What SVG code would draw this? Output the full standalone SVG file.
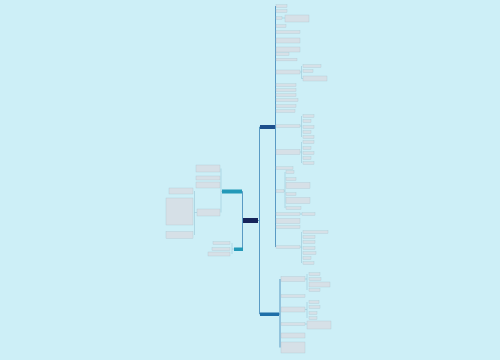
<svg xmlns="http://www.w3.org/2000/svg" width="500" height="360" viewBox="0 0 500 360">
<style>
.bg{fill:#cdeff7}
.n{fill:#d6e0e7;stroke:#a9bfcb;stroke-width:0.3}
.root{fill:#15235a}
.b1{fill:#1c4f8c}
.b2{fill:#1f6fa8}
.lt{fill:#2399b8}
.c{fill:none;stroke:#8fbfd0;stroke-width:0.5}
.m{fill:none;stroke:#3b84b6;stroke-width:0.8}
</style>
<rect class="bg" x="0" y="0" width="500" height="360"/>
<g id="connectors">
<path class="m" d="M258 220.5H259.5V127H260M259.5 220.5V314H260M243 220.5H242.5V191.5H242M242.5 220.5V249H243"/>
<path class="m" d="M275 127H275.5M275.5 6V247"/>
<path class="c" d="M282 18H285M300 72H301.5M301.5 66V78.5H303M300 126H301.5M301.5 116V137M300 152H301.5M301.5 142V163M284 191H285M285 172V208M300 214H302M300 247H301.5M301.5 232V263"/>
<path class="m" d="M279 314H280M280 279V347.5"/>
<path class="c" d="M305 279H307M307 274V290M305 309.5H307M307 302V318M305 324H307"/>
<path class="c" d="M222 191.5H221M221 168.5V212.5M197 212.5H194.5M194.5 191V235M234 249H232M232 243V254"/>
</g>
<g id="root"><rect class="root" x="243" y="218" width="15" height="5"/></g>
<g id="b1"><rect class="b1" x="260" y="125" width="15" height="4"/></g>
<g id="b2"><rect class="b2" x="260" y="312.5" width="19" height="3.5"/></g>
<g id="l1"><rect class="lt" x="222" y="189.5" width="20" height="4"/></g>
<g id="l2"><rect class="lt" x="234" y="247.5" width="9" height="3.5"/></g>
<g id="r1"><rect class="n" x="276" y="4.8" width="11" height="2.6"/></g>
<g id="r2"><rect class="n" x="276" y="9.8" width="11" height="2.6"/></g>
<g id="r3"><rect class="n" x="276" y="16.8" width="6" height="2.6"/></g>
<g id="r3a"><rect class="n" x="285" y="15" width="24" height="7"/></g>
<g id="r4"><rect class="n" x="276" y="24.8" width="10" height="2.6"/></g>
<g id="r5"><rect class="n" x="276" y="30.8" width="24" height="2.6"/></g>
<g id="r6"><rect class="n" x="276" y="38" width="24" height="5"/></g>
<g id="r7"><rect class="n" x="276" y="47" width="24" height="5"/></g>
<g id="r8"><rect class="n" x="276" y="52.8" width="13" height="2.6"/></g>
<g id="r9"><rect class="n" x="276" y="58.3" width="21" height="2.6"/></g>
<g id="r10"><rect class="n" x="276" y="70" width="24" height="4"/></g>
<g id="r10a"><rect class="n" x="303" y="64.8" width="18" height="2.6"/></g>
<g id="r10b"><rect class="n" x="303" y="69.8" width="10" height="2.6"/></g>
<g id="r10c"><rect class="n" x="303" y="76" width="24" height="5"/></g>
<g id="r11"><rect class="n" x="276" y="83.8" width="20" height="2.6"/></g>
<g id="r12"><rect class="n" x="276" y="88.8" width="20" height="2.6"/></g>
<g id="r13"><rect class="n" x="276" y="93.8" width="20" height="2.6"/></g>
<g id="r14"><rect class="n" x="276" y="98.8" width="22" height="2.6"/></g>
<g id="r15"><rect class="n" x="276" y="104.8" width="20" height="2.6"/></g>
<g id="r16"><rect class="n" x="276" y="109.8" width="19" height="2.6"/></g>
<g id="r17"><rect class="n" x="276" y="124.8" width="24" height="2.6"/></g>
<g id="r17a"><rect class="n" x="303" y="114.8" width="11" height="2.6"/></g>
<g id="r17b"><rect class="n" x="303" y="119.8" width="8" height="2.6"/></g>
<g id="r17c"><rect class="n" x="303" y="125.8" width="11" height="2.6"/></g>
<g id="r17d"><rect class="n" x="303" y="130.8" width="8" height="2.6"/></g>
<g id="r17e"><rect class="n" x="303" y="135.8" width="11" height="2.6"/></g>
<g id="r18"><rect class="n" x="276" y="149.5" width="24" height="5"/></g>
<g id="r18a"><rect class="n" x="303" y="140.8" width="11" height="2.6"/></g>
<g id="r18b"><rect class="n" x="303" y="146.8" width="8" height="2.6"/></g>
<g id="r18c"><rect class="n" x="303" y="151.8" width="11" height="2.6"/></g>
<g id="r18d"><rect class="n" x="303" y="156.8" width="8" height="2.6"/></g>
<g id="r18e"><rect class="n" x="303" y="161.8" width="11" height="2.6"/></g>
<g id="r19"><rect class="n" x="276" y="166.8" width="17" height="2.6"/></g>
<g id="r20"><rect class="n" x="276" y="189.8" width="8" height="2.6"/></g>
<g id="r20a"><rect class="n" x="286" y="170.8" width="8" height="2.6"/></g>
<g id="r20b"><rect class="n" x="286" y="177.8" width="10" height="2.6"/></g>
<g id="r20c"><rect class="n" x="286" y="182.5" width="24" height="6"/></g>
<g id="r20d"><rect class="n" x="286" y="192.8" width="10" height="2.6"/></g>
<g id="r20e"><rect class="n" x="286" y="197.5" width="24" height="6"/></g>
<g id="r20f"><rect class="n" x="286" y="206.8" width="15" height="2.6"/></g>
<g id="r21"><rect class="n" x="276" y="212.8" width="24" height="2.6"/></g>
<g id="r21a"><rect class="n" x="302" y="212.8" width="13" height="2.6"/></g>
<g id="r22"><rect class="n" x="276" y="218.5" width="24" height="5"/></g>
<g id="r23"><rect class="n" x="276" y="225.8" width="24" height="2.6"/></g>
<g id="r24"><rect class="n" x="276" y="245.8" width="24" height="2.6"/></g>
<g id="r24a"><rect class="n" x="303" y="230.8" width="25" height="2.6"/></g>
<g id="r24b"><rect class="n" x="303" y="235.8" width="12" height="2.6"/></g>
<g id="r24c"><rect class="n" x="303" y="240.8" width="12" height="2.6"/></g>
<g id="r24d"><rect class="n" x="303" y="246.8" width="12" height="2.6"/></g>
<g id="r24e"><rect class="n" x="303" y="251.8" width="13" height="2.6"/></g>
<g id="r24f"><rect class="n" x="303" y="256.8" width="8" height="2.6"/></g>
<g id="r24g"><rect class="n" x="303" y="261.8" width="11" height="2.6"/></g>
<g id="s1"><rect class="n" x="281" y="276.5" width="24" height="5"/></g>
<g id="s1a"><rect class="n" x="309" y="272.8" width="11" height="2.6"/></g>
<g id="s1b"><rect class="n" x="309" y="277.8" width="12" height="2.6"/></g>
<g id="s1c"><rect class="n" x="309" y="282" width="21" height="5"/></g>
<g id="s1d"><rect class="n" x="309" y="288.8" width="11" height="2.6"/></g>
<g id="s2"><rect class="n" x="281" y="294.8" width="24" height="2.6"/></g>
<g id="s3"><rect class="n" x="281" y="307" width="24" height="5"/></g>
<g id="s3a"><rect class="n" x="309" y="300.8" width="10" height="2.6"/></g>
<g id="s3b"><rect class="n" x="309" y="305.8" width="11" height="2.6"/></g>
<g id="s3c"><rect class="n" x="309" y="311.8" width="8" height="2.6"/></g>
<g id="s3d"><rect class="n" x="309" y="316.8" width="8" height="2.6"/></g>
<g id="s4"><rect class="n" x="281" y="322.8" width="24" height="2.6"/></g>
<g id="s4a"><rect class="n" x="307" y="321" width="24" height="8"/></g>
<g id="s5"><rect class="n" x="281" y="333" width="24" height="5"/></g>
<g id="s6"><rect class="n" x="281" y="342" width="24" height="11"/></g>
<g id="la"><rect class="n" x="196" y="165" width="24" height="7"/></g>
<g id="lb"><rect class="n" x="196" y="176" width="24" height="4"/></g>
<g id="lc"><rect class="n" x="196" y="182" width="24" height="6"/></g>
<g id="ld"><rect class="n" x="197" y="209" width="23" height="7"/></g>
<g id="ld1"><rect class="n" x="169" y="188" width="24" height="6"/></g>
<g id="ld2"><rect class="n" x="166" y="198" width="27" height="27"/></g>
<g id="ld3"><rect class="n" x="166" y="231.5" width="27" height="7"/></g>
<g id="m1"><rect class="n" x="213" y="241.8" width="17" height="2.6"/></g>
<g id="m2"><rect class="n" x="212" y="247.8" width="18" height="2.6"/></g>
<g id="m3"><rect class="n" x="208" y="252" width="22" height="4"/></g>
</svg>
